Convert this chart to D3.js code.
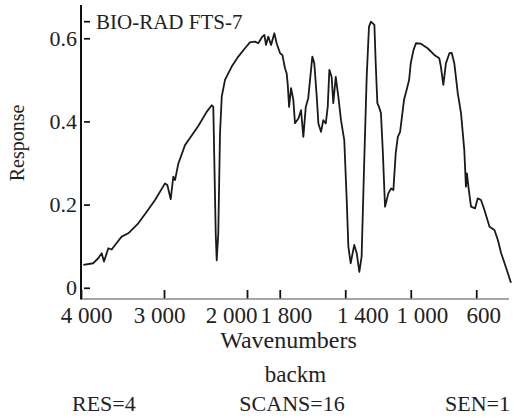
<!DOCTYPE html>
<html>
<head>
<meta charset="utf-8">
<script src="https://cdn.jsdelivr.net/npm/d3@7"></script>
<style>
  body { margin: 0; background: #fff; }
  svg text { fill: #222; }
</style>
</head>
<body>
<script>
(function(d3) {
  "use strict";

  const wavenumbers = [
    3972, 3852, 3792, 3751, 3723, 3671, 3630, 3590, 3510, 3430, 3310, 3208, 3108, 2988, 2960, 2919,
    2888, 2867, 2827, 2747, 2687, 2587, 2486, 2425, 2406, 2377, 2365, 2346, 2325, 2304, 2265, 2184,
    2105, 2024, 1982, 1951, 1931, 1910, 1894, 1884, 1870, 1853, 1833, 1819, 1798, 1784, 1768, 1758,
    1751, 1743, 1731, 1717, 1707, 1686, 1670, 1656, 1641, 1626, 1615, 1601, 1589, 1574, 1564, 1548,
    1534, 1519, 1507, 1497, 1483, 1473, 1458, 1442, 1426, 1406, 1391, 1381, 1367, 1345, 1330, 1314,
    1300, 1285, 1269, 1255, 1243, 1232, 1222, 1214, 1204, 1194, 1182, 1171, 1157, 1137, 1120, 1106,
    1092, 1079, 1065, 1041, 1025, 1010, 1000, 983, 968, 938, 897, 856, 826, 816, 801, 785,
    764, 750, 734, 713, 693, 673, 663, 657, 648, 632, 607, 591, 571, 550, 519, 489,
    468, 448, 427, 407, 388
  ];
  const response = [
    0.055, 0.059, 0.071, 0.083, 0.063, 0.095, 0.092, 0.103, 0.123, 0.131, 0.155, 0.183, 0.211, 0.251, 0.247, 0.213,
    0.267, 0.259, 0.299, 0.343, 0.360, 0.389, 0.423, 0.439, 0.435, 0.131, 0.066, 0.131, 0.372, 0.460, 0.500, 0.532,
    0.556, 0.576, 0.590, 0.592, 0.588, 0.602, 0.608, 0.584, 0.604, 0.584, 0.612, 0.588, 0.564, 0.560, 0.528, 0.516,
    0.488, 0.435, 0.480, 0.452, 0.396, 0.407, 0.427, 0.363, 0.435, 0.456, 0.500, 0.556, 0.540, 0.459, 0.395, 0.375,
    0.403, 0.395, 0.435, 0.524, 0.507, 0.444, 0.507, 0.459, 0.403, 0.355, 0.211, 0.099, 0.059, 0.103, 0.083, 0.038,
    0.075, 0.291, 0.508, 0.628, 0.640, 0.636, 0.632, 0.540, 0.444, 0.435, 0.420, 0.331, 0.195, 0.227, 0.239, 0.235,
    0.323, 0.363, 0.375, 0.452, 0.476, 0.500, 0.540, 0.572, 0.588, 0.587, 0.576, 0.560, 0.552, 0.532, 0.488, 0.540,
    0.564, 0.565, 0.540, 0.468, 0.420, 0.331, 0.243, 0.275, 0.243, 0.195, 0.191, 0.215, 0.211, 0.187, 0.147, 0.139,
    0.115, 0.083, 0.059, 0.035, 0.012
  ];

  const xTicks = [4000, 3000, 2000, 1800, 1400, 1000, 600];
  const xTickLabels = ["4 000", "3 000", "2 000", "1 800", "1 400", "1 000", "600"];
  const yTicks = [0, 0.2, 0.4, 0.6];
  const yTickLabels = ["0", "0.2", "0.4", "0.6"];

  const legendLabel = "BIO-RAD FTS-7";
  const xTitle = "Wavenumbers";
  const subTitle = "backm";
  const footer = ["RES=4", "SCANS=16", "SEN=1"];
  const yTitle = "Response";

  /***** Configuration *****/
  const width = 514;
  const height = 418;
  const left = 81, top = 5, bottom = 299;
  const serif = "'Liberation Serif', 'DejaVu Serif', 'Noto Serif', Tinos, FreeSerif, 'Nimbus Roman', Times, serif";

  // Échelle brisée : 4000-2000 compressé, 2000-400 dilaté
  const x = d3.scaleLinear().domain([4000, 2000, 400]).range([81, 247, 509]);
  const y = d3.scaleLinear().domain([-0.027, 0.68]).range([bottom, top]);

  // décalages des étiquettes de l'axe x (comme sur l'original)
  const labelNudge = [5, -5, -16, 6, 17, 11, 7];

  const svg = d3.select("body")
    .append("svg")
    .attr("width", width)
    .attr("height", height);

  svg.append("rect").attr("width", width).attr("height", height).attr("fill", "#fff");

  /***** Axe x *****/
  const xAxis = svg.append("g")
    .attr("transform", "translate(0," + bottom + ")")
    .call(d3.axisBottom(x)
      .tickValues(xTicks)
      .tickFormat((d, i) => xTickLabels[i])
      .tickSize(-9)
      .tickSizeOuter(0)
      .tickPadding(8));
  xAxis.attr("font-family", serif);
  xAxis.select(".domain").remove();
  xAxis.selectAll(".tick line").attr("stroke", "#111").attr("stroke-width", 1.8);
  xAxis.selectAll(".tick text")
    .attr("x", (d, i) => labelNudge[i])
    .style("font-family", serif)
    .style("font-size", "23px")
    .attr("fill", "#222");

  svg.append("line")
    .attr("x1", left).attr("x2", x(400))
    .attr("y1", bottom).attr("y2", bottom)
    .attr("stroke", "#888")
    .attr("stroke-width", 1.5);

  /***** Axe y *****/
  const yAxis = svg.append("g")
    .attr("transform", "translate(" + left + ",0)")
    .call(d3.axisLeft(y)
      .tickValues(yTicks)
      .tickFormat((d, i) => yTickLabels[i])
      .tickSize(0)
      .tickPadding(4));
  yAxis.attr("font-family", serif);
  yAxis.select(".domain").remove();
  yAxis.selectAll(".tick text")
    .style("font-family", serif)
    .style("font-size", "22px")
    .attr("fill", "#222");
  yAxis.selectAll(".tick").append("line")
    .attr("x1", 3).attr("x2", 9)
    .attr("stroke", "#111")
    .attr("stroke-width", 1.7);

  svg.append("line")
    .attr("x1", left).attr("x2", left)
    .attr("y1", top).attr("y2", bottom + 0.5)
    .attr("stroke", "#111")
    .attr("stroke-width", 2);

  /***** Spectre *****/
  const data = wavenumbers.map((w, i) => ({ w: w, r: response[i] }));
  const line = d3.line()
    .x(d => x(d.w))
    .y(d => y(d.r));

  svg.append("path")
    .datum(data)
    .attr("fill", "none")
    .attr("stroke", "#1a1a1a")
    .attr("stroke-width", 1.8)
    .attr("stroke-linejoin", "round")
    .attr("d", line);

  /***** Légende et titres *****/
  svg.append("line")
    .attr("x1", left + 3).attr("x2", left + 9)
    .attr("y1", 21.7).attr("y2", 21.7)
    .attr("stroke", "#111")
    .attr("stroke-width", 1.7);

  const addText = (tx, ty, size, anchor, label) => svg.append("text")
    .attr("x", tx).attr("y", ty)
    .attr("text-anchor", anchor)
    .style("font-family", serif)
    .style("font-size", size + "px")
    .text(label);

  addText(96, 28.5, 21, "start", legendLabel);
  addText(288.5, 348, 24, "middle", xTitle);
  addText(295.5, 382, 23, "middle", subTitle);

  svg.append("text")
    .attr("transform", "translate(24,143) rotate(-90)")
    .attr("text-anchor", "middle")
    .style("font-family", serif)
    .style("font-size", "20px")
    .text(yTitle);

  const footerAnchors = ["start", "middle", "end"];
  const footerX = [72, 292, 510];
  footer.forEach((label, i) => addText(footerX[i], 411, 22, footerAnchors[i], label));
})(d3);
</script>
</body>
</html>
